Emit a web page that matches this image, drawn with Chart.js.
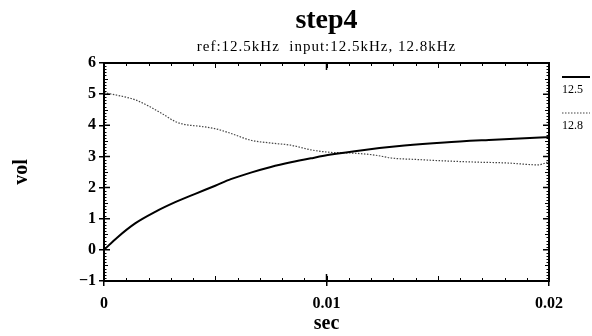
<!DOCTYPE html>
<html>
<head>
<meta charset="utf-8">
<script src="https://cdn.jsdelivr.net/npm/chart.js@4/dist/chart.umd.min.js"></script>
<style>
  html, body { margin: 0; padding: 0; background: #fff; }
  #wrap { width: 592px; height: 336px; }
</style>
</head>
<body>
<div id="wrap"><canvas id="chart" width="592" height="336"></canvas></div>
<script>
// --- data ---
const titleText = 'step4';
const subtitleText = 'ref:12.5kHz  input:12.5kHz, 12.8kHz';
const seriesNames = ['12.5', '12.8'];

const timeRef = [0, 0.0006, 0.0014, 0.0023, 0.0032, 0.0041, 0.005, 0.0057, 0.0066, 0.0075,
                 0.0084, 0.0093, 0.0102, 0.0117, 0.0135, 0.0153, 0.0173, 0.0196, 0.02];
const voltRef = [0, 0.4, 0.85, 1.22, 1.53, 1.8, 2.06, 2.27, 2.48, 2.66,
                 2.81, 2.94, 3.06, 3.21, 3.35, 3.45, 3.53, 3.61, 3.62];

const timeIn = [0, 0.001, 0.0014, 0.002, 0.0026, 0.0032, 0.0036, 0.0044, 0.005, 0.0057, 0.0066, 0.0075,
                0.0084, 0.0093, 0.0102, 0.0111, 0.0122, 0.0129, 0.0141, 0.0152, 0.0166, 0.0181, 0.0195, 0.02];
const voltIn = [5.05, 4.9, 4.82, 4.62, 4.38, 4.12, 4.03, 3.96, 3.89, 3.74, 3.52, 3.43,
                3.36, 3.21, 3.13, 3.11, 3.04, 2.95, 2.9, 2.86, 2.82, 2.79, 2.73, 2.83];

const xTicks = [0, 0.01, 0.02];
const xTickLabels = ['0', '0.01', '0.02'];
const yTicks = [-1, 0, 1, 2, 3, 4, 5, 6];

const serif = '"Liberation Serif", "DejaVu Serif", serif';

function toPoints(xs, ys) {
    return xs.map((x, i) => ({ x: x, y: ys[i] }));
}

// frame, inner ticks, titles and the little legend on the right
const decorPlugin = {
    id: 'decor',
    afterDraw(chart) {
        const ctx = chart.ctx;
        const a = chart.chartArea;
        const xs = chart.scales.x, ys = chart.scales.y;
        ctx.save();
        ctx.strokeStyle = '#000';

        // minor ticks
        ctx.lineWidth = 1;
        ctx.beginPath();
        for (let k = 1; k < 20; k++) {
            const px = Math.round(xs.getPixelForValue(k * 0.001)) + 0.5;
            const len = (k % 5 === 0) ? 5 : 3;
            ctx.moveTo(px, a.bottom); ctx.lineTo(px, a.bottom - len);
            ctx.moveTo(px, a.top); ctx.lineTo(px, a.top + len);
        }
        for (let k = -10; k <= 60; k++) {
            if (k % 10 === 0) continue;
            const py = Math.round(ys.getPixelForValue(k / 10)) + 0.5;
            const len = (k % 5 === 0) ? 4 : 2.5;
            ctx.moveTo(a.left, py); ctx.lineTo(a.left + len, py);
            ctx.moveTo(a.right, py); ctx.lineTo(a.right - len, py);
        }
        ctx.stroke();

        // major inner ticks
        ctx.lineWidth = 1.5;
        ctx.beginPath();
        xTicks.forEach(v => {
            const px = xs.getPixelForValue(v);
            ctx.moveTo(px, a.bottom); ctx.lineTo(px, a.bottom - 7);
            ctx.moveTo(px, a.top); ctx.lineTo(px, a.top + 7);
        });
        yTicks.forEach(v => {
            const py = ys.getPixelForValue(v);
            ctx.moveTo(a.left, py); ctx.lineTo(a.left + 6, py);
            ctx.moveTo(a.right, py); ctx.lineTo(a.right - 6, py);
        });
        ctx.stroke();

        // frame
        ctx.lineWidth = 2;
        ctx.strokeRect(a.left, a.top, a.right - a.left, a.bottom - a.top);

        // titles
        const cx = (a.left + a.right) / 2;
        ctx.fillStyle = '#000';
        ctx.textAlign = 'center';
        ctx.textBaseline = 'alphabetic';
        ctx.font = 'bold 28px ' + serif;
        ctx.fillText(titleText, cx, 28);
        ctx.font = '15px ' + serif;
        ctx.letterSpacing = '1px';
        ctx.fillText(subtitleText, cx, 51);
        ctx.letterSpacing = '0px';

        // legend
        const ds = chart.data.datasets;
        const lx0 = 562, lx1 = 590;
        [77, 113].forEach((ly, i) => {
            ctx.beginPath();
            ctx.strokeStyle = ds[i].borderColor;
            ctx.lineWidth = ds[i].borderWidth;
            ctx.setLineDash(ds[i].borderDash || []);
            ctx.moveTo(lx0, ly); ctx.lineTo(lx1, ly);
            ctx.stroke();
            ctx.setLineDash([]);
            ctx.font = '12px ' + serif;
            ctx.textAlign = 'left';
            ctx.fillText(seriesNames[i], lx0, ly + 16);
        });
        ctx.restore();
    }
};

new Chart(document.getElementById('chart'), {
    type: 'line',
    data: {
        datasets: [
            {
                label: seriesNames[0],
                data: toPoints(timeRef, voltRef),
                borderColor: '#000',
                borderWidth: 2,
                pointRadius: 0,
                cubicInterpolationMode: 'monotone'
            },
            {
                label: seriesNames[1],
                data: toPoints(timeIn, voltIn),
                borderColor: '#444',
                borderWidth: 1.2,
                borderDash: [1.5, 1.5],
                pointRadius: 0,
                cubicInterpolationMode: 'monotone'
            }
        ]
    },
    options: {
        responsive: false,
        animation: false,
        layout: { padding: { top: 63, right: 43, left: 0, bottom: 0 } },
        plugins: { legend: { display: false }, title: { display: false }, tooltip: { enabled: false } },
        scales: {
            x: {
                type: 'linear',
                min: 0, max: 0.02,
                afterFit: s => { s.height = 55; },
                afterBuildTicks: s => { s.ticks = xTicks.map(v => ({ value: v })); },
                ticks: {
                    color: '#000', padding: 8, maxRotation: 0,
                    font: { family: serif, size: 16, weight: 'bold' },
                    callback: (v, i) => xTickLabels[i]
                },
                grid: { drawOnChartArea: false, drawTicks: true, tickLength: 5, color: '#000', lineWidth: 1.5 },
                border: { display: false },
                title: {
                    display: true, text: 'sec', color: '#000',
                    font: { family: serif, size: 20, weight: 'bold' },
                    padding: { top: 0, bottom: 0 }
                }
            },
            y: {
                min: -1, max: 6,
                afterFit: s => { s.width = 104; },
                afterBuildTicks: s => { s.ticks = yTicks.map(v => ({ value: v })); },
                ticks: {
                    color: '#000', padding: 3,
                    font: { family: serif, size: 16, weight: 'bold' },
                    callback: v => (v < 0 ? '\u2212' + Math.abs(v) : String(v))
                },
                grid: { drawOnChartArea: false, drawTicks: true, tickLength: 5, color: '#000', lineWidth: 1.5 },
                border: { display: false },
                title: {
                    display: true, text: 'vol', color: '#000',
                    font: { family: serif, size: 20, weight: 'bold' },
                    padding: { top: 10, bottom: 0 }
                }
            }
        }
    },
    plugins: [decorPlugin]
});
</script>
</body>
</html>
